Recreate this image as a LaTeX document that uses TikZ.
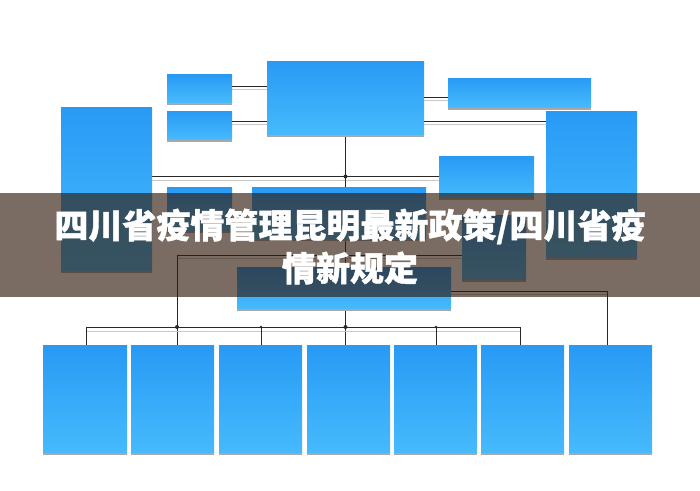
\documentclass[tikz,border=0pt]{standalone}
\usepackage{fontspec}
\newfontfamily\cjk{Noto Sans CJK SC}[BoldFeatures={FakeBold=1.2}]
\usetikzlibrary{backgrounds}
\definecolor{boxtop}{RGB}{40,154,245}
\definecolor{boxbot}{RGB}{70,186,252}
\definecolor{shc}{RGB}{168,168,168}
\definecolor{lnc}{RGB}{40,40,40}
\definecolor{lgc}{RGB}{200,200,200}
\definecolor{bannerc}{RGB}{48,26,10}
\newcommand\mkbox[5]{%
  \fill[shc] (#2,#3+#5) rectangle (#2+#4,#3+#5+3);
  \node[box, minimum width=#4pt, minimum height=#5pt] (#1) at (#2,#3) {};}
\begin{document}
\begin{tikzpicture}[x=1pt,y=-1pt,
  box/.style={anchor=north west, inner sep=0pt, outer sep=0pt, top color=boxtop, bottom color=boxbot, draw=none},
  ln/.style={draw=lnc, line width=0.9pt},
  lg/.style={draw=lgc, line width=0.9pt},
  bigdot/.style={circle, fill=lnc, inner sep=0pt, minimum size=4pt},
  smalldot/.style={circle, fill=lnc, inner sep=0pt, minimum size=2.6pt}]
\useasboundingbox (0,0) rectangle (700,490);
% boxes
\mkbox{A}{61}{107}{91}{163}
\mkbox{B}{167}{74}{65}{28}
\mkbox{C}{167}{111}{65}{28}
\mkbox{D}{267}{61}{157}{73}
\mkbox{E}{448}{78}{143}{29}
\mkbox{F}{546}{111}{91}{146}
\mkbox{G}{439}{156}{95}{41}
\mkbox{H}{462}{215}{64}{64}
\mkbox{I}{167}{187}{65}{43}
\mkbox{J}{252}{187}{174}{51}
\mkbox{K}{237}{267}{214}{41}
\mkbox{R1}{43}{345}{84}{107}
\mkbox{R2}{131}{345}{83}{107}
\mkbox{R3}{219}{345}{83}{107}
\mkbox{R4}{307}{345}{83}{107}
\mkbox{R5}{394}{345}{83}{107}
\mkbox{R6}{481}{345}{83}{107}
\mkbox{R7}{569}{345}{83}{107}
\coordinate (bus) at (0,327);
\coordinate (bl) at (86,327);
\coordinate (b3) at (261,327);
\coordinate (b5) at (436,327);
\coordinate (br) at (520,327);
\coordinate (m) at (177,255);
\coordinate (rc) at (607,291);
\begin{pgfonlayer}{background}
\fill[white] (0,0) rectangle (700,490);
% top connectors
\draw[lg] ([yshift=-1pt]B.east) -- ([yshift=-1pt]B.east -| D.west);
\draw[ln] ([yshift=2pt]B.east) -- ([yshift=2pt]B.east -| D.west);
\draw[lg] ([yshift=1pt]C.east) -- ([yshift=1pt]C.east -| D.west);
\draw[ln] ([yshift=4pt]C.east) -- ([yshift=4pt]C.east -| D.west);
\draw[lg] ([yshift=-3pt]D.east) -- ([yshift=-3pt]D.east -| E.west);
\draw[ln] (D.east) -- (D.east -| E.west);
\draw[lg] ([yshift=-27pt]D.east) -- ([yshift=-27pt]D.east -| F.west);
\draw[ln] ([yshift=-23.5pt]D.east) -- ([yshift=-23.5pt]D.east -| F.west);
\draw[lg] ([yshift=-3.5pt]G.west -| A.east) -- ([yshift=-3.5pt]G.west);
\draw[ln] (G.west -| A.east) -- (G.west);
% central vertical
\draw[ln] (D.south) -- (D.south |- R4.north);
% line under banner
\draw[lg] ([yshift=-3pt]m) -- ([yshift=-3pt]m -| H.west);
\draw[ln] (m) -- (m -| H.west);
\draw[ln] (m) -- (m |- R2.north);
% bus
\draw[lg] ([yshift=-4pt]bl) -- ([yshift=-4pt]br);
\draw[ln] (bl) -- (br);
\draw[ln] (bl) -- (bl |- R1.north);
\draw[ln] (b3) -- (b3 |- R3.north);
\draw[ln] (b5) -- (b5 |- R5.north);
\draw[ln] (br) -- (br |- R6.north);
% right branch
\draw[lg] ([yshift=-6.5pt]K.east) -- ([yshift=-3pt]rc);
\draw[ln] ([yshift=-3.5pt]K.east) -- (rc) -- (rc |- R7.north);
\end{pgfonlayer}
% dots
\node[bigdot] (d1) at (D.south |- G.west) {};
\node[bigdot] (d2) at (m |- bus) {};
\node[bigdot] (d3) at (D.south |- bus) {};
\node[smalldot] (d4) at (b3) {};
\node[smalldot] (d5) at (b5) {};
% banner
\fill[bannerc, opacity=0.64] (0,193) rectangle (700,297);
\node[text=white, font=\cjk\bfseries\fontsize{34}{43}\selectfont, align=center] (title) at (350,246.5) {四川省疫情管理昆明最新政策/四川省疫\\情新规定};
\end{tikzpicture}
\end{document}
